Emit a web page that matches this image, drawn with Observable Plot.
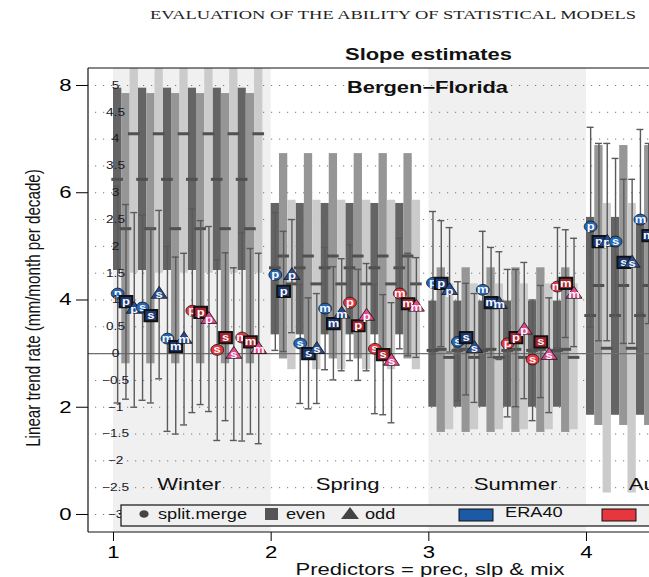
<!DOCTYPE html>
<html>
<head>
<meta charset="utf-8">
<script src="https://cdn.jsdelivr.net/npm/d3@7"></script>
<script src="https://cdn.jsdelivr.net/npm/@observablehq/plot@0.6"></script>
<style>
  body { margin: 0; background: #fff; }
  #chart { position: relative; width: 649px; height: 577px; overflow: hidden; }
  #chart svg { font-family: "Liberation Sans", Arial, sans-serif; }
</style>
</head>
<body>
<div id="chart"></div>
<script>
// ---- categories -------------------------------------------------------
const seasons = ["Winter", "Spring", "Summer", "Autumn"];
const seasonLabelAt = [1.48, 2.485, 3.55, 4.51];
const shapes = ["split.merge", "even", "odd"];
const reanalyses = ["ERA40", "NCEP"];
const predictors = ["p", "s", "m"];

// ---- tick labels ------------------------------------------------------
const xTicks = [1, 2, 3, 4];
const outerTicks = [0, 2, 4, 6, 8];
const innerTicks = [-3, -2.5, -2, -1.5, -1, -0.5, 0, 0.5, 1, 1.5, 2, 2.5, 3, 3.5, 4, 4.5, 5];

// ---- slope estimates (inner scale) --------------------------------------
// order in each season: ERA40 p, s, m then NCEP p, s, m; each as split.merge, even, odd
const winterEst = [1.12, 0.97, 0.84, 0.86, 0.71, 1.12, 0.28, 0.13, 0.28, 0.80, 0.77, 0.65, 0.07, 0.30, 0.00, 0.30, 0.22, 0.09];
const winterLo  = [-0.92, -0.85, -1.00, -0.87, -0.92, -0.47, -1.45, -1.50, -1.33, -1.10, -0.95, -1.08, -1.62, -1.25, -1.62, -1.63, -1.50, -1.68];
const winterHi  = [3.12, 2.78, 2.63, 2.58, 2.33, 2.67, 2.00, 1.80, 1.87, 2.70, 2.48, 2.37, 1.75, 1.88, 1.60, 2.26, 1.96, 1.87];

const springEst = [1.47, 1.16, 1.47, 0.19, 0.00, 0.09, 0.84, 0.56, 0.75, 0.95, 0.52, 0.71, 0.09, -0.02, -0.13, 1.12, 0.93, 0.88];
const springLo  = [0.06, 0.04, 0.39, -0.93, -1.03, -0.93, -0.30, -0.49, -0.32, -0.13, -0.50, -0.32, -1.12, -1.14, -1.29, 0.09, -0.04, -0.07];
const springHi  = [2.63, 2.28, 2.50, 1.29, 1.04, 1.12, 1.98, 1.62, 1.77, 2.03, 1.57, 1.68, 1.29, 1.10, 0.95, 2.15, 1.87, 1.79];

const summerEst = [1.32, 1.31, 1.19, 0.22, 0.30, 0.11, 1.19, 0.95, 0.93, 0.19, 0.30, 0.45, -0.11, 0.22, -0.02, 1.25, 1.31, 1.12];
const summerLo  = [-0.01, 0.13, 0.03, -0.88, -0.77, -0.91, 0.09, -0.07, -0.11, -1.18, -0.99, -0.84, -1.25, -0.82, -1.10, 0.11, 0.30, 0.13];
const summerHi  = [2.65, 2.48, 2.35, 1.34, 1.31, 1.12, 2.28, 1.98, 1.90, 1.57, 1.57, 1.70, 1.00, 1.27, 1.04, 2.35, 2.31, 2.15];

const autumnEst = [2.37, 2.09, 2.09, 2.09, 1.70, 1.70, 2.50, 2.20];
const autumnLo  = [0.49, 0.24, 0.24, 0.69, 0.19, 0.19, 0.76, 0.56];
const autumnHi  = [4.22, 3.92, 3.92, 3.64, 3.25, 3.25, 4.18, 3.92];

// ---- grey boxes (outer scale), per season for split.merge, even, odd ----
const winterBoxLow  = [4.55, 2.81, 4.50];
const winterBoxHigh = [7.95, 7.85, 9.70];
const winterBoxMid  = [6.25, 5.33, 7.10];
const springBoxLow  = [3.35, 2.90, 2.70];
const springBoxHigh = [5.80, 6.73, 5.86];
const springBoxMid  = [4.60, 4.82, 4.30];
const summerBoxLow  = [2.00, 1.53, 1.58];
const summerBoxHigh = [3.98, 4.60, 4.30];
const summerBoxMid  = [3.06, 3.08, 2.93];
const autumnBoxLow  = [1.85, 1.66, 0.40];
const autumnBoxHigh = [5.54, 6.88, 5.80];
const autumnBoxMid  = [3.71, 4.27, 3.10];

// ---- styling ------------------------------------------------------------
const boxShade = {"split.merge": "#646464", "even": "#969696", "odd": "#cbcbcb"};
const symbolFill = {
  "ERA40 split.merge": "#2466b2", "ERA40 even": "#1b3870", "ERA40 odd": "#294a8c",
  "NCEP split.merge": "#e3363d", "NCEP even": "#a8242c", "NCEP odd": "#e2478c"
};
const legendFill = {ERA40: "#1c5aa6", NCEP: "#e8363e"};
const textStretch = 1.3;   // type is set wide, as in the printed figure

// ---- assemble records -----------------------------------------------------
const innerOffset = 3;   // inner axis value v sits at outer value v + 3
const slots = 19;        // 18 estimates per season plus one gap
const estBySeason = [winterEst, springEst, summerEst, autumnEst];
const loBySeason = [winterLo, springLo, summerLo, autumnLo];
const hiBySeason = [winterHi, springHi, summerHi, autumnHi];
const boxLowBySeason = [winterBoxLow, springBoxLow, summerBoxLow, autumnBoxLow];
const boxHighBySeason = [winterBoxHigh, springBoxHigh, summerBoxHigh, autumnBoxHigh];
const boxMidBySeason = [winterBoxMid, springBoxMid, summerBoxMid, autumnBoxMid];

const items = [];
seasons.forEach((season, si) => {
  estBySeason[si].forEach((v, k) => {
    items.push({
      season,
      x: si + 1 + (k + 0.5) / slots,
      est: v + innerOffset,
      lo: loBySeason[si][k] + innerOffset,
      hi: hiBySeason[si][k] + innerOffset,
      reanalysis: reanalyses[Math.floor(k / 9)],
      predictor: predictors[Math.floor((k % 9) / 3)],
      shape: shapes[k % 3]
    });
  });
});

const boxes = [];
seasons.forEach((season, si) => {
  for (let k = 0; k < 18; k++) {
    const t = k % 3;
    boxes.push({
      season,
      x1: si + 1 + k / slots,
      x2: si + 1 + (k + 1) / slots,
      xc: si + 1 + (k + 0.5) / slots,
      lo: boxLowBySeason[si][t],
      hi: boxHighBySeason[si][t],
      mid: boxMidBySeason[si][t],
      shape: shapes[t]
    });
  }
});

// fixed-size glyphs for the three estimation schemes (slightly wide, like the print)
const K = 0.5523;
const circleGlyph = {draw(ctx) {
  const rx = 6.4, ry = 5.4;
  ctx.moveTo(rx, 0);
  ctx.bezierCurveTo(rx, ry * K, rx * K, ry, 0, ry);
  ctx.bezierCurveTo(-rx * K, ry, -rx, ry * K, -rx, 0);
  ctx.bezierCurveTo(-rx, -ry * K, -rx * K, -ry, 0, -ry);
  ctx.bezierCurveTo(rx * K, -ry, rx, -ry * K, rx, 0);
  ctx.closePath();
}};
const squareGlyph = {draw(ctx) { ctx.rect(-6.4, -5.6, 12.8, 11.2); }};
const triangleGlyph = {draw(ctx) { ctx.moveTo(0, -7.2); ctx.lineTo(8, 4.7); ctx.lineTo(-8, 4.7); ctx.closePath(); }};

const colorKeys = Object.keys(symbolFill);
const capHalf = 0.022;
const tickHalf = 0.037;

const symbolMarks = items.flatMap(d => [
  Plot.dot([d], {
    x: "x", y: "est",
    symbol: "shape",
    fill: e => `${e.reanalysis} ${e.shape}`,
    stroke: "#111",
    strokeWidth: d.shape === "even" ? 2 : 0.8,
    r: 5,
    clip: true
  }),
  Plot.text([d], {
    x: "x", y: "est", text: "predictor",
    fill: "#f8f8ff", fontSize: 10, fontWeight: "bold",
    dy: d.shape === "odd" ? 1.5 : 0,
    clip: true
  })
]);

const plot = Plot.plot({
  width: 649,
  height: 577,
  marginLeft: 88,
  marginRight: 0,
  marginTop: 68,
  marginBottom: 45,
  style: {fontFamily: "Liberation Sans, Arial, sans-serif", background: "transparent"},
  x: {domain: [0.8414, 4.3996], axis: null},
  y: {domain: [-0.336, 8.317], axis: null},
  symbol: {domain: shapes, range: [circleGlyph, squareGlyph, triangleGlyph]},
  color: {domain: colorKeys, range: colorKeys.map(k => symbolFill[k])},
  marks: [
    // alternating season backgrounds
    Plot.rect(seasons.filter((_, i) => i % 2 === 0), {
      x1: d => seasons.indexOf(d) + 1, x2: d => seasons.indexOf(d) + 2,
      fill: "#f0f0f0", clip: true
    }),
    // dotted grid of the inner axis
    Plot.ruleY(innerTicks, {
      y: d => d + innerOffset, stroke: "#777", strokeWidth: 1,
      strokeDasharray: "1.2,6.8", strokeDashoffset: -7
    }),
    // grey boxes
    ...shapes.map(s => Plot.rect(boxes.filter(b => b.shape === s), {
      x1: "x1", x2: "x2", y1: "lo", y2: "hi", fill: boxShade[s], clip: true
    })),
    Plot.ruleY(boxes, {
      y: "mid", x1: d => d.xc - tickHalf, x2: d => d.xc + tickHalf,
      stroke: "#505050", strokeWidth: 3, clip: true
    }),
    // zero of the inner axis
    Plot.ruleY([0], {y: d => d + innerOffset, stroke: "#6e6e6e", strokeWidth: 1.1}),
    // error bars
    Plot.ruleX(items, {x: "x", y1: "lo", y2: "hi", stroke: "#5a5a5a", strokeWidth: 1.4, clip: true}),
    Plot.ruleY(items, {y: "lo", x1: d => d.x - capHalf, x2: d => d.x + capHalf, stroke: "#5a5a5a", strokeWidth: 1.4, clip: true}),
    Plot.ruleY(items, {y: "hi", x1: d => d.x - capHalf, x2: d => d.x + capHalf, stroke: "#5a5a5a", strokeWidth: 1.4, clip: true}),
    // estimates
    ...symbolMarks,
    // inner axis labels
    Plot.text(innerTicks, {
      y: d => d + innerOffset, frameAnchor: "left", dx: 27, textAnchor: "middle",
      text: d => (d < 0 ? "\u2212" + Math.abs(d) : String(d)),
      fontSize: 10.5, fill: "#1a1a2a"
    }),
    // season names
    Plot.text(seasons, {
      x: (d, i) => seasonLabelAt[i], y: () => -2.45 + innerOffset,
      text: d => d, fontSize: 17, fill: "#111"
    }),
    // outer axes
    Plot.axisY(outerTicks, {anchor: "left", tickSize: 12, tickPadding: 5, fontSize: 17, label: null, tickFormat: d => String(d)}),
    Plot.axisX(xTicks, {anchor: "bottom", tickSize: 9, tickPadding: 4, fontSize: 17, label: null, tickFormat: d => String(d)})
  ]
});

document.getElementById("chart").appendChild(plot);

// ---- frame, titles and legend ------------------------------------------
const svg = d3.select(plot);
const xs = plot.scale("x"), ys = plot.scale("y");
const frameLeft = xs.range[0], frameRight = xs.range[1];
const frameTop = ys.range[1], frameBottom = ys.range[0];

const frame = svg.append("g").attr("stroke", "#111").attr("stroke-width", 1.2);
frame.append("line").attr("x1", frameLeft).attr("x2", frameLeft).attr("y1", frameTop).attr("y2", frameBottom);
frame.append("line").attr("x1", frameLeft).attr("x2", frameRight).attr("y1", frameTop).attr("y2", frameTop);
frame.append("line").attr("x1", frameLeft).attr("x2", frameRight).attr("y1", frameBottom).attr("y2", frameBottom);

// legend box inside the panel
const lg = svg.append("g").attr("text-anchor", "start");
lg.append("rect").attr("x", 121).attr("y", 505).attr("width", 560).attr("height", 21)
  .attr("fill", "#f0f0f0").attr("stroke", "#111").attr("stroke-width", 1.2);
lg.append("ellipse").attr("cx", 144).attr("cy", 514).attr("rx", 4.6).attr("ry", 3.8).attr("fill", "#444");
lg.append("text").attr("x", 158).attr("y", 519).style("font-size", "14px").attr("fill", "#111").text(shapes[0]);
lg.append("rect").attr("x", 265).attr("y", 508).attr("width", 13).attr("height", 12).attr("fill", "#555");
lg.append("text").attr("x", 286).attr("y", 519).style("font-size", "14px").attr("fill", "#111").text(shapes[1]);
lg.append("path").attr("d", "M350,507L359,519L341,519Z").attr("fill", "#444");
lg.append("text").attr("x", 365).attr("y", 519).style("font-size", "14px").attr("fill", "#111").text(shapes[2]);
lg.append("rect").attr("x", 459).attr("y", 509).attr("width", 34).attr("height", 12)
  .attr("fill", legendFill.ERA40).attr("stroke", "#111").attr("stroke-width", 1);
lg.append("text").attr("x", 505).attr("y", 517).style("font-size", "14px").attr("fill", "#111").text(reanalyses[0]);
lg.append("rect").attr("x", 602).attr("y", 509).attr("width", 34).attr("height", 12)
  .attr("fill", legendFill.NCEP).attr("stroke", "#111").attr("stroke-width", 1);
lg.append("text").attr("x", 648).attr("y", 517).style("font-size", "14px").attr("fill", "#111").text(reanalyses[1]);

// widen every horizontal label by the same factor
svg.selectAll("text").each(function () {
  const len = this.getComputedTextLength();
  if (len > 0) {
    this.setAttribute("textLength", len * textStretch);
    this.setAttribute("lengthAdjust", "spacingAndGlyphs");
  }
});

// titles (given their printed widths directly)
svg.append("text")
  .attr("x", 393).attr("y", 18.5)
  .attr("text-anchor", "middle")
  .attr("textLength", 486).attr("lengthAdjust", "spacingAndGlyphs")
  .style("font-family", "'Liberation Serif', 'Times New Roman', serif")
  .style("font-size", "13px").attr("fill", "#222")
  .text("EVALUATION OF THE ABILITY OF STATISTICAL MODELS");

svg.append("text")
  .attr("x", 428.5).attr("y", 60)
  .attr("text-anchor", "middle")
  .attr("textLength", 167).attr("lengthAdjust", "spacingAndGlyphs")
  .style("font-size", "17px").style("font-weight", "bold").attr("fill", "#111")
  .text("Slope estimates");

svg.append("text")
  .attr("x", 427.5).attr("y", 93)
  .attr("text-anchor", "middle")
  .attr("textLength", 161).attr("lengthAdjust", "spacingAndGlyphs")
  .style("font-size", "16px").style("font-weight", "bold").attr("fill", "#111")
  .text("Bergen\u2212Florida");

svg.append("text")
  .attr("transform", `translate(40,${(frameTop + frameBottom) / 2 + 8}) scale(${textStretch},1) rotate(-90)`)
  .attr("text-anchor", "middle")
  .style("font-size", "15.2px").attr("fill", "#111")
  .text("Linear trend rate (mm/month per decade)");

svg.append("text")
  .attr("x", 430).attr("y", 575)
  .attr("text-anchor", "middle")
  .attr("textLength", 269).attr("lengthAdjust", "spacingAndGlyphs")
  .style("font-size", "17px").attr("fill", "#111")
  .text("Predictors = prec, slp & mix");
</script>
</body>
</html>
